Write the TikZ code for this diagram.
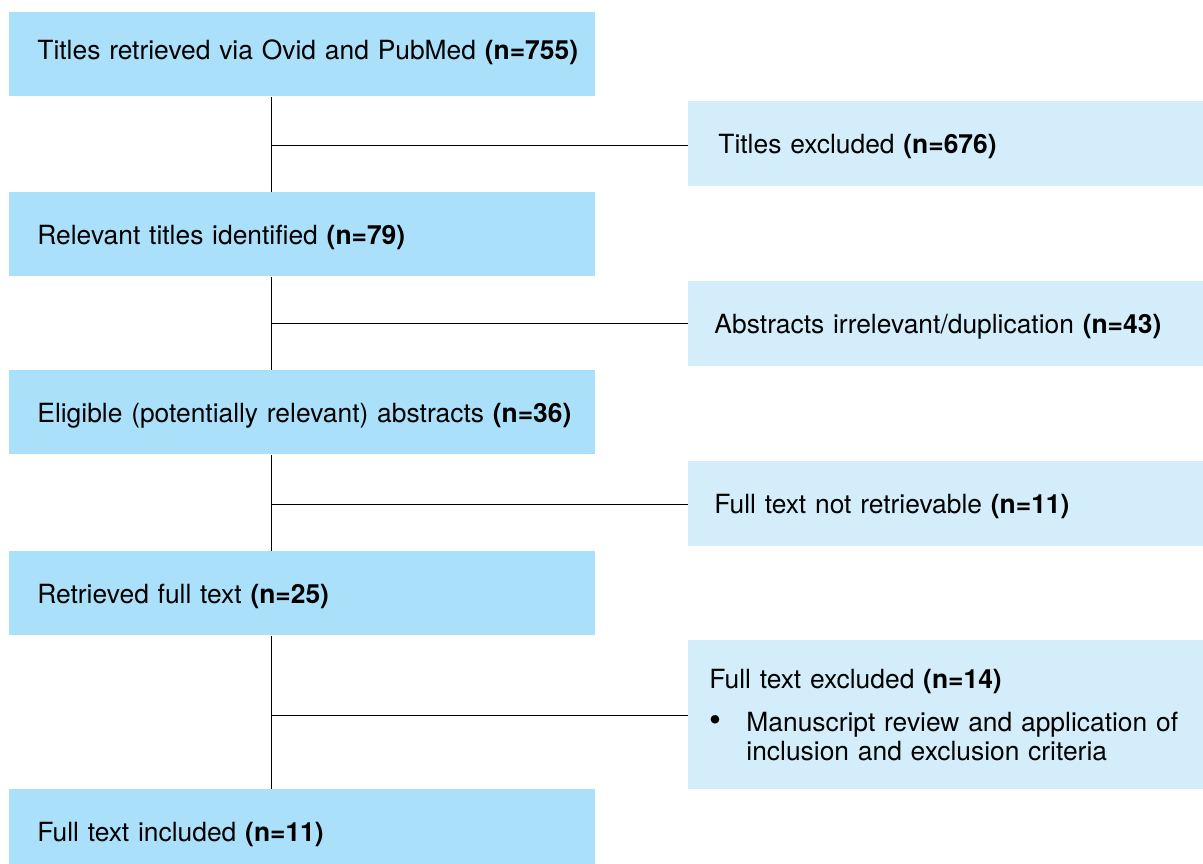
\documentclass[tikz,border=0pt]{standalone}
\usepackage{fontspec}
\setmainfont{TeX Gyre Heros}
\usepackage{tikz}
\usetikzlibrary{positioning}
\definecolor{stepblue}{HTML}{ABE0FA}
\definecolor{dropblue}{HTML}{D3EEFA}
\tikzset{
  stage/.style={fill=stepblue, minimum width=293pt, minimum height=42pt,
    text width=265pt, inner xsep=14pt, text depth=0pt, align=left, anchor=north west},
  drop/.style={fill=dropblue, minimum width=257.5pt, minimum height=42.5pt,
    text width=232pt, inner xsep=13pt, text depth=0pt, align=left, anchor=north west},
}

\begin{document}
\begin{tikzpicture}[x=0.5pt,y=-0.5pt,font=\fontsize{13.2}{14.5}\selectfont]
    \useasboundingbox (0,0) rectangle (1203,863);
    \node[stage] (s1) at (9,12) {\mbox{\raisebox{4.5pt}{Titles retrieved via Ovid and PubMed \textbf{(n=755)}}}};
    \node[stage] (s2) at (9,192) {Relevant titles identified \textbf{(n=79)}};
    \node[stage] (s3) at (9,370) {\mbox{Eligible (potentially relevant) abstracts \textbf{(n=36)}}};
    \node[stage] (s4) at (9,551) {Retrieved full text \textbf{(n=25)}};
    \node[stage] (s5) at (9,789) {Full text included \textbf{(n=11)}};
    \node[drop, inner xsep=15pt] (x1) at (688,101) {Titles excluded \textbf{(n=676)}};
    \node[drop] (x2) at (688,281) {Abstracts irrelevant/duplication \textbf{(n=43)}};
    \node[drop] (x3) at (688,461) {Full text not retrievable \textbf{(n=11)}};
    \node[drop, minimum height=74.5pt, inner xsep=10.5pt, text width=236.5pt, text depth=] (x4) at (688,640)
      {Full text excluded \textbf{(n=14)}\\[7pt]
       \makebox[18.5pt][l]{\fontsize{17}{14.5}\selectfont\textbullet}Manuscript review and application of\\
       \hspace*{18.5pt}inclusion and exclusion criteria};
    \coordinate (j1) at (271,145);
    \coordinate (j2) at (271,323);
    \coordinate (j3) at (271,504);
    \coordinate (j4) at (271,715);
    \draw (s1.south -| j1) to (s2.north -| j1);
    \draw (s2.south -| j2) to (s3.north -| j2);
    \draw (s3.south -| j3) to (s4.north -| j3);
    \draw (s4.south -| j4) to (s5.north -| j4);
    \draw (j1) to (x1.west |- j1);
    \draw (j2) to (x2.west |- j2);
    \draw (j3) to (x3.west |- j3);
    \draw (j4) to (x4.west |- j4);
  \end{tikzpicture}
\end{document}
